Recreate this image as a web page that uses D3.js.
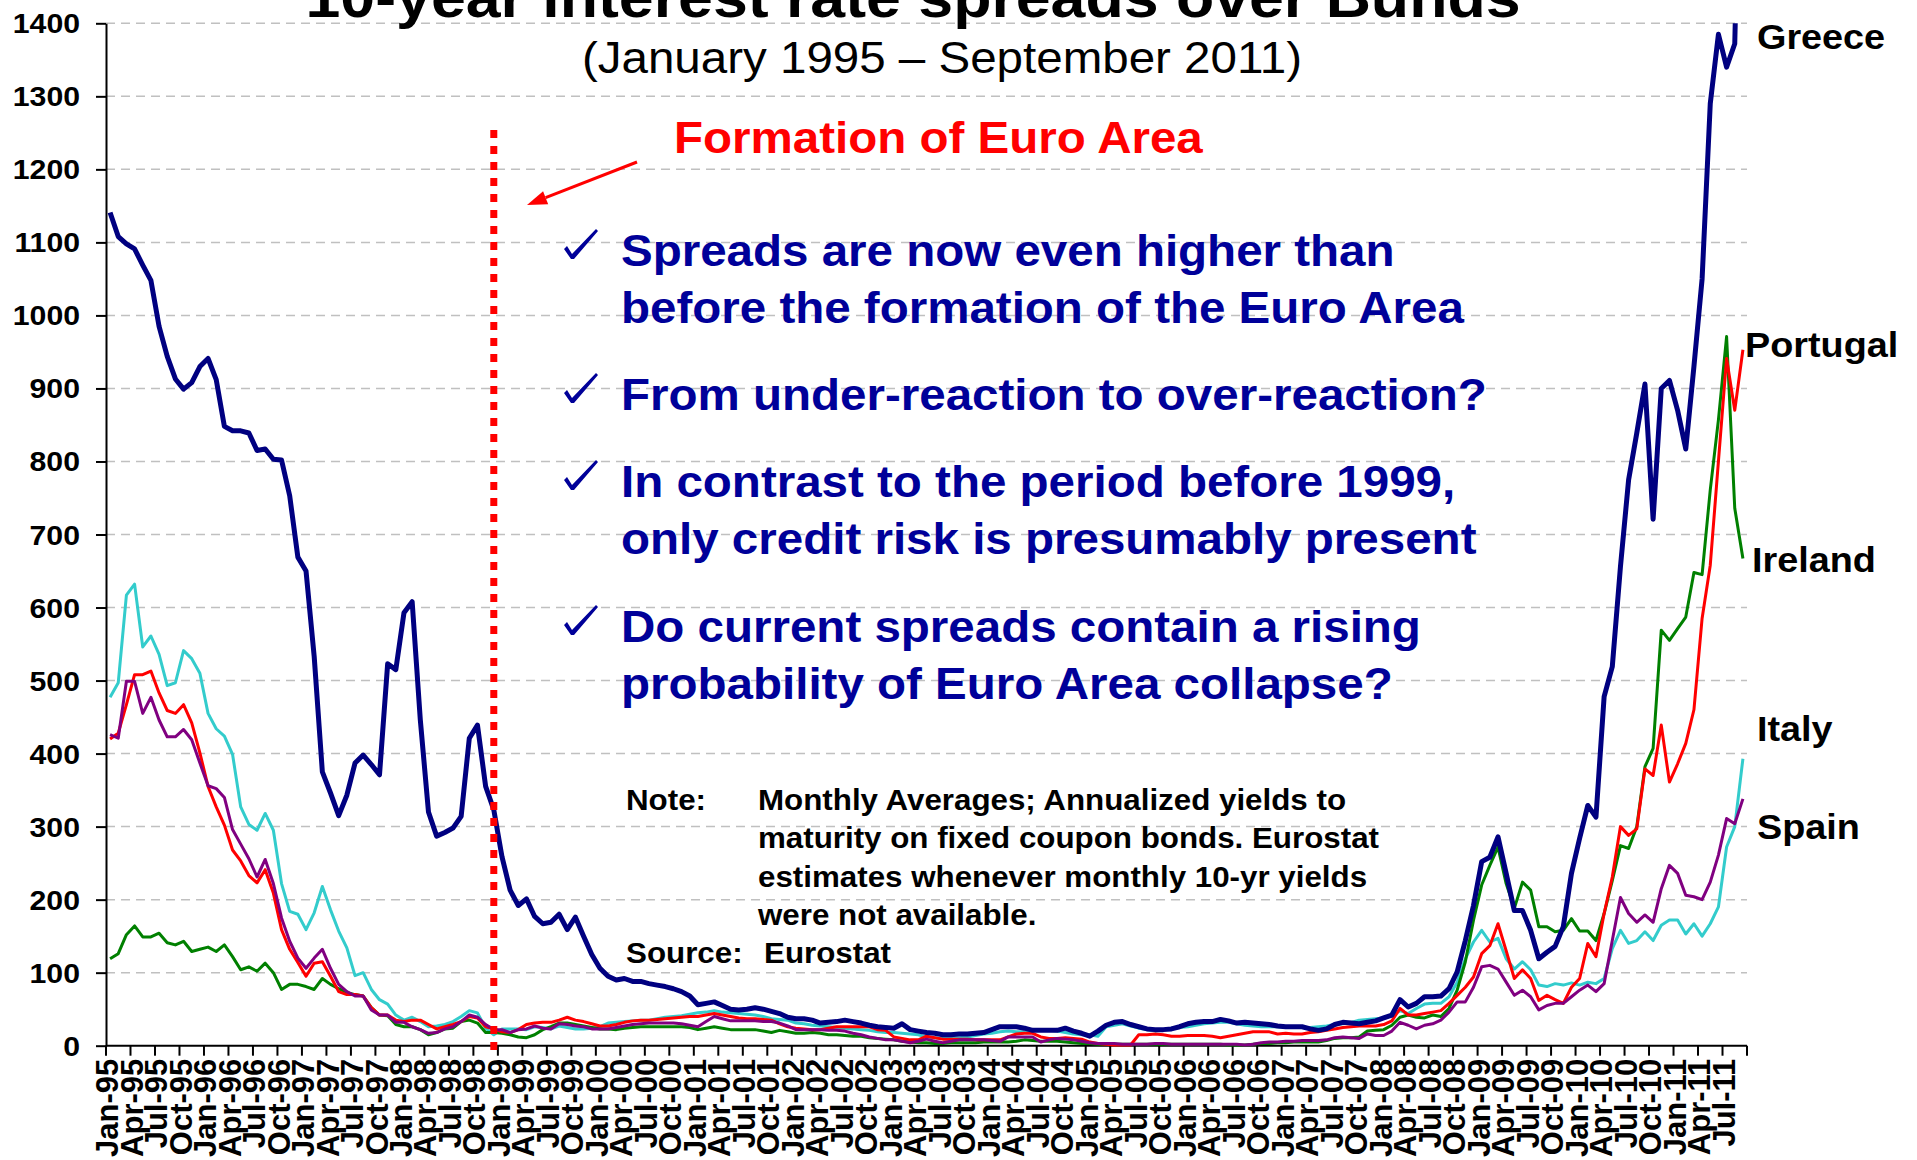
<!DOCTYPE html>
<html>
<head>
<meta charset="utf-8">
<script src="https://cdn.jsdelivr.net/npm/d3@7"></script>
<style>
  body { margin: 0; background: #fff; }
  svg { display: block; font-family: "Liberation Sans", Arial, sans-serif; }
</style>
</head>
<body>
<svg id="chart" width="1917" height="1160"></svg>
<script>
// monthly spreads over Bunds, basis points, Jan-95 .. Sep-11 (one row per year)
const greece = [
  1141,1108,1098,1091,1069,1048,985,944,913,899,908,930,
  941,912,848,842,842,839,815,817,803,802,753,669,
  650,533,375,346,315,343,387,398,385,371,523,515,
  593,608,446,320,287,292,298,314,421,439,355,323,
  259,213,192,201,177,167,169,180,159,176,150,125,
  106,95,90,92,88,88,85,83,81,78,74,68,
  56,58,60,55,50,49,50,52,50,47,44,39,
  37,37,35,31,32,33,35,33,31,28,26,25,
  24,30,22,20,18,17,15,15,16,16,17,18,
  22,26,26,26,24,21,21,21,21,24,20,17,
  13,20,28,32,33,29,26,23,22,22,23,26,
  30,32,33,33,36,34,31,32,31,30,29,27,
  26,26,26,23,21,23,29,32,31,30,32,34,
  38,42,63,53,58,67,67,68,78,101,144,192,
  252,258,286,236,185,185,158,119,128,136,163,236,
  284,329,313,478,519,656,775,839,906,721,900,911,
  870,817,930,1050,1290,1385,1340,1372,1850
];
const italy = [
  477,497,617,632,546,561,536,493,497,541,530,510,
  455,434,424,399,327,303,295,318,295,222,184,180,
  159,182,218,186,157,134,96,100,77,63,57,42,
  35,39,33,26,27,29,33,40,48,45,24,15,
  23,23,23,22,26,25,23,27,25,23,23,24,
  26,31,32,33,34,35,35,37,39,40,41,43,
  45,46,48,46,45,44,43,42,40,37,36,35,
  31,30,28,27,26,25,24,23,22,21,19,18,
  18,17,16,15,12,11,10,10,11,12,14,16,
  17,19,20,19,19,20,22,21,20,18,16,15,
  15,13,26,28,30,27,24,22,20,22,24,25,
  26,28,30,31,32,32,30,28,27,26,26,26,
  25,25,25,25,26,27,29,30,32,35,36,37,
  38,41,48,44,51,57,58,58,67,87,119,142,
  158,142,147,119,105,115,104,83,81,85,83,86,
  83,87,85,92,133,158,140,144,156,144,165,172,
  172,153,167,150,167,190,272,300,393
];
const portugal = [
  420,428,467,508,508,513,483,459,455,467,442,401,
  355,327,302,268,253,233,223,241,209,159,132,114,
  95,113,115,95,74,70,70,68,52,42,42,35,
  33,35,35,29,23,26,29,33,40,38,26,23,
  19,18,22,29,31,32,32,35,39,35,33,30,
  27,27,29,32,34,35,35,36,37,38,39,40,
  40,42,44,42,40,38,37,37,36,35,30,26,
  24,23,22,22,24,26,26,26,26,26,22,21,
  12,10,8,8,13,11,9,9,9,9,8,8,
  8,8,12,16,17,17,12,10,10,11,10,9,
  5,3,2,1,1,1,15,15,16,15,13,13,
  14,14,14,13,11,13,15,17,19,19,19,16,
  17,16,16,18,19,21,23,25,26,27,27,27,
  29,34,51,42,42,44,46,48,58,69,80,94,
  126,137,167,130,92,104,92,62,69,63,58,80,
  92,140,122,181,231,300,288,297,379,370,439,361,
  386,414,460,585,658,800,941,870,953
];
const spain = [
  426,421,499,499,455,477,446,423,423,433,419,387,
  356,352,340,296,276,256,231,255,222,175,143,120,
  106,120,132,106,84,74,68,68,49,42,42,32,
  32,26,22,17,18,23,26,33,42,39,29,22,
  22,18,22,23,27,24,23,30,29,27,26,23,
  23,23,25,27,29,30,31,31,31,31,30,28,
  26,33,40,37,34,34,34,34,33,33,31,27,
  22,22,22,22,21,21,20,17,15,12,10,8,
  8,6,4,6,9,6,4,6,8,8,8,8,
  7,6,12,12,12,12,5,8,10,9,8,6,
  4,3,3,3,2,2,2,2,3,3,2,2,
  2,2,2,2,2,2,2,1,2,4,5,5,
  6,6,7,7,7,8,11,12,11,10,16,14,
  14,20,32,28,23,28,30,35,46,60,60,80,
  108,110,105,87,69,76,67,49,55,58,58,67,
  76,83,74,85,144,203,181,169,179,169,215,247,
  236,206,204,200,224,261,311,304,338
];
const ireland = [
  119,126,152,164,149,149,154,141,138,143,129,132,
  135,129,138,122,104,108,102,113,100,77,84,84,
  81,77,92,84,78,73,70,68,52,42,41,29,
  26,26,22,15,18,23,24,33,35,31,18,18,
  17,15,12,11,15,22,26,31,31,29,27,25,
  23,23,22,24,25,26,26,26,26,26,26,25,
  22,24,26,24,22,22,22,22,20,18,21,19,
  17,17,18,17,15,15,14,13,13,11,10,9,
  8,6,5,4,4,3,3,4,4,4,4,5,
  5,5,5,6,8,7,6,6,6,5,4,3,
  3,2,2,2,2,2,2,2,2,2,2,2,
  2,2,2,2,2,1,1,1,2,3,3,4,
  4,5,5,5,5,7,10,11,11,12,20,21,
  22,28,39,42,39,38,42,40,51,76,115,172,
  220,247,272,222,188,224,213,163,163,156,158,174,
  157,157,144,181,226,274,270,300,382,407,569,555,
  571,587,648,645,761,857,971,736,667
];

const months = d3.timeMonth.range(new Date(1995, 0, 1), new Date(2011, 9, 1));
const categories = months.map(d3.timeFormat("%b-%y"));
const yTicks = d3.range(0, 1401, 100);
const euroStart = "Dec-98";

const series = [
  {name: "Italy",    values: italy,    color: "#33cccc", width: 3},
  {name: "Ireland",  values: ireland,  color: "#008000", width: 3},
  {name: "Portugal", values: portugal, color: "#ff0000", width: 3},
  {name: "Spain",    values: spain,    color: "#800080", width: 3},
  {name: "Greece",   values: greece,   color: "#000080", width: 5}
];

// country labels at right edge: [name, y-value the label sits at]
const endLabels = [
  ["Greece", 1381], ["Portugal", 959], ["Ireland", 665], ["Italy", 433], ["Spain", 300]
];

const bullets = [
  ["Spreads are now even higher than", "before the formation of the Euro Area"],
  ["From under-reaction to over-reaction?"],
  ["In contrast to the period before 1999,", "only credit risk is presumably present"],
  ["Do current spreads contain a rising", "probability of Euro Area collapse?"]
];

const noteLines = [
  "Monthly Averages; Annualized yields to",
  "maturity on fixed coupon bonds. Eurostat",
  "estimates whenever monthly 10-yr yields",
  "were not available."
];

const SX = 1.08;   // the slide is stretched a little sideways
const plotLeft = 106, plotRight = 1747, plotTop = 23.3, plotBottom = 1045.7;

const svg = d3.select("#chart");

const x = d3.scaleBand()
  .domain(categories)
  .range([plotLeft, plotRight]);

const y = d3.scaleLinear()
  .domain([0, 1400])
  .range([plotBottom, plotTop]);

const cx = c => x(c) + x.bandwidth() / 2;

function place(sel, px, py) {
  return sel.attr("transform", "translate(" + px + "," + py + ") scale(" + SX + ",1)");
}

// grid
svg.append("g")
  .attr("class", "grid")
  .selectAll("line")
  .data(yTicks.filter(d => d > 0))
  .enter()
  .append("line")
  .attr("x1", plotLeft).attr("x2", plotRight)
  .attr("y1", d => y(d)).attr("y2", d => y(d))
  .attr("stroke", "#c0c0c0")
  .attr("stroke-width", 1.5)
  .attr("stroke-dasharray", "9,6");

// y axis
const yAxis = svg.append("g")
  .attr("transform", "translate(" + plotLeft + ",0)")
  .call(d3.axisLeft(y).tickValues(yTicks).tickSize(10).tickSizeOuter(0));
yAxis.select(".domain").attr("stroke", "#000").attr("stroke-width", 2);
yAxis.selectAll(".tick line").attr("stroke", "#000").attr("stroke-width", 2);
yAxis.selectAll(".tick text").remove();
svg.append("g")
  .selectAll("text")
  .data(yTicks)
  .enter()
  .append("text")
  .each(function(d) { place(d3.select(this), 80, y(d) + 10); })
  .attr("text-anchor", "end")
  .style("font-size", "28px")
  .style("font-weight", "bold")
  .text(d => d);

// x axis: tick marks between categories, every third month
const xAxis = svg.append("g").attr("class", "x axis");
xAxis.append("line")
  .attr("x1", plotLeft).attr("x2", plotRight)
  .attr("y1", plotBottom).attr("y2", plotBottom)
  .attr("stroke", "#000").attr("stroke-width", 2);
const tickCats = categories.filter((d, i) => i % 3 === 0);
xAxis.selectAll("line.tick")
  .data(tickCats.map(d => x(d)).concat([plotRight]))
  .enter()
  .append("line")
  .attr("class", "tick")
  .attr("x1", d => d).attr("x2", d => d)
  .attr("y1", plotBottom).attr("y2", plotBottom + 10)
  .attr("stroke", "#000").attr("stroke-width", 2);
xAxis.selectAll("text")
  .data(tickCats)
  .enter()
  .append("text")
  .attr("transform", d => "translate(" + (cx(d) + 8) + "," + (plotBottom + 13) + ") rotate(-90)")
  .attr("text-anchor", "end")
  .style("font-size", "31px")
  .style("font-weight", "bold")
  .text(d => d);

// lines
svg.append("clipPath").attr("id", "plot")
  .append("rect").attr("x", 0).attr("y", plotTop).attr("width", 1917).attr("height", 1160);

const line = d3.line()
  .x((d, i) => cx(categories[i]))
  .y(d => y(d));

svg.append("g")
  .attr("clip-path", "url(#plot)")
  .selectAll("path")
  .data(series)
  .enter()
  .append("path")
  .attr("d", d => line(d.values))
  .attr("fill", "none")
  .attr("stroke", d => d.color)
  .attr("stroke-width", d => d.width)
  .attr("stroke-linejoin", "round");

// formation of euro area marker
svg.append("line")
  .attr("x1", cx(euroStart)).attr("x2", cx(euroStart))
  .attr("y1", 130).attr("y2", 1050)
  .attr("stroke", "#ff0000")
  .attr("stroke-width", 7)
  .attr("stroke-dasharray", "8,8");

const arrowFrom = [637, 162], arrowTo = [527, 205];
const ang = Math.atan2(arrowTo[1] - arrowFrom[1], arrowTo[0] - arrowFrom[0]);
const headLen = 20, headW = 7;
const base = [arrowTo[0] - headLen * Math.cos(ang), arrowTo[1] - headLen * Math.sin(ang)];
svg.append("line")
  .attr("x1", arrowFrom[0]).attr("y1", arrowFrom[1])
  .attr("x2", base[0]).attr("y2", base[1])
  .attr("stroke", "#ff0000").attr("stroke-width", 3);
svg.append("path")
  .attr("d", "M" + arrowTo + "L" + [base[0] - headW * Math.sin(ang), base[1] + headW * Math.cos(ang)] +
    "L" + [base[0] + headW * Math.sin(ang), base[1] - headW * Math.cos(ang)] + "Z")
  .attr("fill", "#ff0000");

place(svg.append("text"), 674, 153)
  .style("font-size", "44px").style("font-weight", "bold")
  .attr("fill", "#ff0000")
  .text("Formation of Euro Area");

// titles
place(svg.append("text"), 913, 17)
  .attr("text-anchor", "middle")
  .style("font-size", "58px").style("font-weight", "bold")
  .text("10-year interest rate spreads over Bunds");
place(svg.append("text"), 942, 73)
  .attr("text-anchor", "middle")
  .style("font-size", "44px")
  .text("(January 1995 \u2013 September 2011)");

// bullets
const bulletTop = [266, 410, 497, 642];
bullets.forEach((b, k) => {
  const by = bulletTop[k];
  svg.append("path")
    .attr("transform", "translate(572," + (by - 7) + ")")
    .attr("d", "M-8,-10 L-5,-13 L0,-5 L24,-30 L26,-28 L2,0 L-1,0 Z")
    .attr("fill", "#000099");
  b.forEach((t, j) => {
    place(svg.append("text"), 621, by + j * 57)
      .style("font-size", "44px").style("font-weight", "bold")
      .attr("fill", "#000099")
      .text(t);
  });
});

// note
const note = svg.append("g").style("font-size", "29px").style("font-weight", "bold");
place(note.append("text"), 626, 810).text("Note:");
noteLines.forEach((t, j) => place(note.append("text"), 758, 810 + j * 38.3).text(t));
place(note.append("text"), 626, 963).text("Source:");
place(note.append("text"), 764, 963).text("Eurostat");

// country labels
const labelX = {Greece: 1757, Portugal: 1745, Ireland: 1752, Italy: 1757, Spain: 1757};
svg.append("g")
  .selectAll("text")
  .data(endLabels)
  .enter()
  .append("text")
  .each(function(d) { place(d3.select(this), labelX[d[0]], y(d[1]) + 12); })
  .style("font-size", "35px").style("font-weight", "bold")
  .text(d => d[0]);
</script>
</body>
</html>
